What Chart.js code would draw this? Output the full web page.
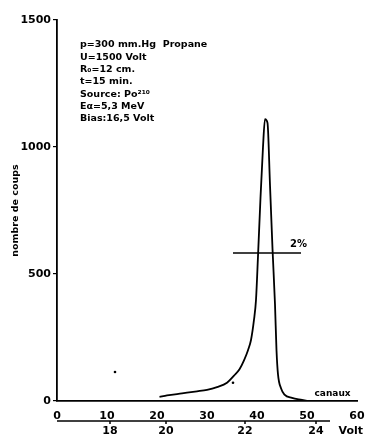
<!DOCTYPE html>
<html>
<head>
<meta charset="utf-8">
<script src="https://cdn.jsdelivr.net/npm/chart.js@4.4.1/dist/chart.umd.min.js"></script>
<style>
  html, body { margin: 0; padding: 0; background: #fff; }
  #wrap { width: 368px; height: 436px; }
</style>
</head>
<body>
<div id="wrap"><canvas id="spectre" width="368" height="436"></canvas></div>
<script>
// channel (canaux) vs counts (nombre de coups)
const canaux = [20.5, 22, 25, 28, 30, 32, 34, 35.4, 36.5, 37.4, 38.2, 38.8, 39.4, 39.8, 40.2, 40.7, 41.2, 41.6, 42.1, 42.6, 43.1, 43.6, 43.9, 44.2, 44.8, 45.5, 47, 49, 50];
const coups = [16, 22, 30, 38, 44, 55, 72, 100, 125, 160, 200, 240, 320, 398, 570, 800, 1000, 1110, 1095, 850, 600, 380, 200, 105, 50, 25, 12, 4, 0];

// stray measured dots
const dotCanaux = [11.6, 35.2];
const dotCoups = [114, 72];

// width at half maximum marker
const fwhmCanaux = [35.2, 48.8];
const fwhmCoups = 583;

// secondary voltage scale (positions in channels)
const voltLabels = ['18', '20', '22', '24'];
const voltCanaux = [10.6, 21.8, 37.6, 51.8];

const xTicks = [0, 10, 20, 30, 40, 50, 60];
const yTicks = [0, 500, 1000, 1500];

const infoLines = ['p=300 mm.Hg  Propane', 'U=1500 Volt', 'R\u2080=12 cm.', 't=15 min.', 'Source: Po\u00b2\u00b9\u2070', 'E\u03b1=5,3 MeV', 'Bias:16,5 Volt'];

const font = "'DejaVu Sans', sans-serif";

const annotations = {
  id: 'annotations',
  afterDraw(chart) {
    const { ctx, scales: { x, y } } = chart;
    ctx.save();
    ctx.fillStyle = '#000';
    ctx.strokeStyle = '#000';

    // info block
    ctx.font = "bold 9.5px " + font;
    ctx.textBaseline = 'middle';
    ctx.textAlign = 'left';
    infoLines.forEach((t, i) => ctx.fillText(t, 80, 45 + i * 12.3));

    // 2% label
    ctx.font = "bold 10px " + font;
    ctx.fillText('2%', x.getPixelForValue(46.6), y.getPixelForValue(fwhmCoups) - 9);

    // canaux label
    ctx.font = "bold 9px " + font;
    ctx.fillText('canaux', x.getPixelForValue(51.5), y.getPixelForValue(0) - 7);

    // voltage axis
    const vy = 421;
    ctx.lineWidth = 1.5;
    ctx.beginPath();
    ctx.moveTo(x.getPixelForValue(0), vy);
    ctx.lineTo(x.getPixelForValue(54.6), vy);
    ctx.stroke();
    ctx.font = "bold 11px " + font;
    ctx.textAlign = 'center';
    voltCanaux.forEach((c, i) => {
      const px = x.getPixelForValue(c);
      ctx.beginPath();
      ctx.moveTo(px, vy);
      ctx.lineTo(px, vy + 3);
      ctx.stroke();
      ctx.fillText(voltLabels[i], px, vy + 10);
    });
    ctx.textAlign = 'left';
    ctx.fillText('Volt', x.getPixelForValue(56.3), vy + 10);
    ctx.restore();
  }
};

new Chart(document.getElementById('spectre'), {
  type: 'scatter',
  data: {
    datasets: [
      {
        data: canaux.map((c, i) => ({ x: c, y: coups[i] })),
        showLine: true,
        borderColor: '#000',
        borderWidth: 1.8,
        pointRadius: 0,
        cubicInterpolationMode: 'monotone'
      },
      {
        data: fwhmCanaux.map(c => ({ x: c, y: fwhmCoups })),
        showLine: true,
        borderColor: '#000',
        borderWidth: 1.5,
        pointRadius: 0
      },
      {
        data: dotCanaux.map((c, i) => ({ x: c, y: dotCoups[i] })),
        backgroundColor: '#000',
        borderWidth: 0,
        pointRadius: 1.3
      }
    ]
  },
  options: {
    responsive: false,
    animation: false,
    layout: { padding: { top: 20, right: 11, left: 0, bottom: 0 } },
    plugins: { legend: { display: false }, tooltip: { enabled: false } },
    scales: {
      x: {
        type: 'linear',
        min: 0,
        max: 60,
        afterBuildTicks: s => { s.ticks = xTicks.map(v => ({ value: v })); },
        afterFit: s => { s.height = 35; },
        grid: { display: false },
        border: { display: true, color: '#000', width: 1.8 },
        ticks: { color: '#000', padding: 1, maxRotation: 0, callback: v => String(v), font: { family: font, size: 11, weight: 'bold' } }
      },
      y: {
        min: 0,
        max: 1500,
        afterBuildTicks: s => { s.ticks = yTicks.map(v => ({ value: v })); },
        afterFit: s => { s.width = 57; },
        grid: { display: true, drawOnChartArea: false, tickLength: 4, color: '#000', lineWidth: 1.2 },
        border: { display: true, color: '#000', width: 1.8 },
        title: { display: true, text: 'nombre de coups', color: '#000', padding: { top: 10, bottom: 2 }, font: { family: font, size: 9.5, weight: 'bold' } },
        ticks: { color: '#000', padding: 2, callback: v => String(v), font: { family: font, size: 11, weight: 'bold' } }
      }
    }
  },
  plugins: [annotations]
});
</script>
</body>
</html>
